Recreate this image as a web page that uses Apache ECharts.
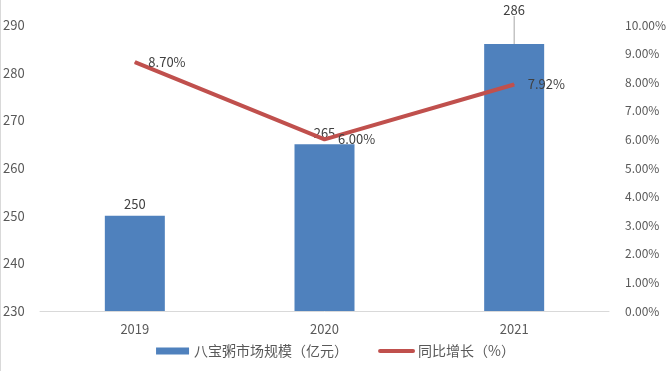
<!DOCTYPE html>
<html><head><meta charset="utf-8">
<script src="https://cdn.jsdelivr.net/npm/echarts@6/dist/echarts.min.js"></script>
<style>html,body{margin:0;padding:0;background:#fff}#c{width:671px;height:371px}</style>
</head><body><div id="c"></div>
<script>
const categories = ['2019', '2020', '2021'];
const marketSize = [250, 265, 286];
const growthRate = [8.70, 6.00, 7.92];
const leftTicks = {min: 230, max: 290, interval: 10};
const rightTicks = {min: 0, max: 10, interval: 1};

const font = '"Microsoft YaHei","Noto Sans CJK SC",sans-serif';
const chart = echarts.init(document.getElementById('c'));
chart.setOption({
  animation: false,
  textStyle: {fontFamily: font},
  grid: {left: 40, right: 62, top: 25, bottom: 60},
  legend: {
    bottom: 8, left: 'center', itemGap: 30, itemWidth: 33, itemHeight: 7,
    textStyle: {color: '#595959', fontSize: 14, fontFamily: font},
    data: [{name: '八宝粥市场规模（亿元）', icon: 'rect'}, {name: '同比增长（%）', itemStyle: {opacity: 0}, lineStyle: {width: 4, color: '#C0504D', cap: 'round'}}]
  },
  xAxis: {
    type: 'category', data: categories,
    axisLine: {lineStyle: {color: '#d9d9d9'}},
    axisTick: {show: false},
    axisLabel: {color: '#595959', fontSize: 13, margin: 12}
  },
  yAxis: [{
    type: 'value', min: leftTicks.min, max: leftTicks.max, interval: leftTicks.interval,
    axisLine: {show: false}, axisTick: {show: false}, splitLine: {show: false},
    axisLabel: {color: '#595959', fontSize: 13, align: 'left', margin: 37}
  }, {
    type: 'value', min: rightTicks.min, max: rightTicks.max, interval: rightTicks.interval,
    axisLine: {show: false}, axisTick: {show: false}, splitLine: {show: false},
    axisLabel: {color: '#595959', fontSize: 12, margin: 16, formatter: v => v.toFixed(2) + '%'}
  }],
  series: [{
    name: '八宝粥市场规模（亿元）', type: 'bar', barWidth: 60,
    itemStyle: {color: '#4F81BD'},
    data: marketSize.map((v, i) => i === 2 ? {
      value: v,
      labelLine: {show: true, lineStyle: {color: '#a6a6a6', width: 1}}
    } : v),
    label: {show: true, position: 'top', color: '#404040', fontSize: 13, distance: 5},
    labelLayout: p => p.dataIndex === 2 ? {dy: -23} : {},
    labelLine: {show: false}
  }, {
    name: '同比增长（%）', type: 'line', yAxisIndex: 1,
    data: growthRate, showSymbol: true, symbol: 'circle', symbolSize: 1,
    lineStyle: {color: '#C0504D', width: 4},
    itemStyle: {color: '#C0504D'},
    label: {show: true, position: 'right', distance: 13, color: '#404040', fontSize: 13, formatter: p => p.value.toFixed(2) + '%'},
    z: 3
  }],
  graphic: [{type: 'rect', shape: {x: 0, y: 0, width: 1, height: 371}, style: {fill: '#d9d9d9'}}]
});
</script></body></html>
